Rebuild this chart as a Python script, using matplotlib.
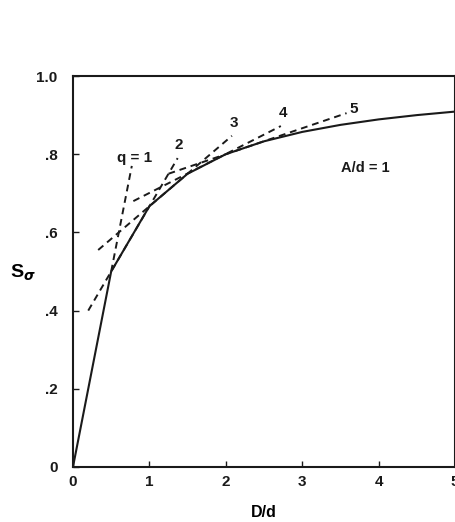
import numpy as np
import matplotlib.pyplot as plt

# envelope (solid curve)
D = [0, 0.5, 1.0, 1.5, 2.0, 2.5, 3.0, 3.5, 4.0, 4.5, 5.0]
S = [0, 0.5, 0.667, 0.75, 0.8, 0.833, 0.857, 0.875, 0.889, 0.9, 0.909]

# dashed lines, one per q: start and end points
q_vals = [1, 2, 3, 4, 5]
d_start = [0.5, 0.2, 0.33, 0.79, 1.25]
s_start = [0.5, 0.4, 0.555, 0.68, 0.75]
d_end = [0.77, 1.37, 2.08, 2.72, 3.58]
s_end = [0.77, 0.79, 0.847, 0.872, 0.905]

# label positions
lab_text = ["q = 1", "2", "3", "4", "5"]
lab_x = [0.80, 1.38, 2.11, 2.75, 3.67]
lab_y = [0.79, 0.823, 0.879, 0.905, 0.915]

xticks = [0, 1, 2, 3, 4, 5]
yticks = [0, 0.2, 0.4, 0.6, 0.8, 1.0]
ytick_labels = ["0", ".2", ".4", ".6", ".8", "1.0"]

plt.rcParams['font.family'] = ['Liberation Sans', 'DejaVu Sans']
plt.rcParams['font.weight'] = 'bold'

ink = '#1a1a1a'
fig = plt.figure(figsize=(4.56, 5.22), dpi=100)
ax = fig.add_axes([0.160, 0.1054, 0.838, 0.749])

ax.plot(D, S, color=ink, linewidth=1.5)
for i in range(len(q_vals)):
    ax.plot([d_start[i], d_end[i]], [s_start[i], s_end[i]], color=ink,
            linewidth=1.4, linestyle=(0, (3.5, 2.5)))
    ax.text(lab_x[i], lab_y[i], lab_text[i], fontsize=11, ha='center', va='center',
            color=ink)

ax.text(3.82, 0.764, "A/d = 1", fontsize=10.5, ha='center', va='center', color=ink)

ax.set_xlim(0, 5)
ax.set_ylim(0, 1.0)
ax.set_xticks(xticks)
ax.set_xticklabels([str(t) for t in xticks])
ax.set_yticks(yticks)
ax.set_yticklabels(ytick_labels)
ax.tick_params(direction='in', length=4, width=1, labelsize=11, colors=ink, pad=6)
ax.tick_params(axis='y', pad=11)
for sp in ax.spines.values():
    sp.set_linewidth(1.5)
    sp.set_color(ink)

ax.set_xlabel("D/d", fontsize=11.5, fontweight='bold', labelpad=11)
fig.text(0.05, 0.478, "S$_\\sigma$", fontsize=14, ha='center', va='center')

fig.savefig("out.png", dpi=100)
